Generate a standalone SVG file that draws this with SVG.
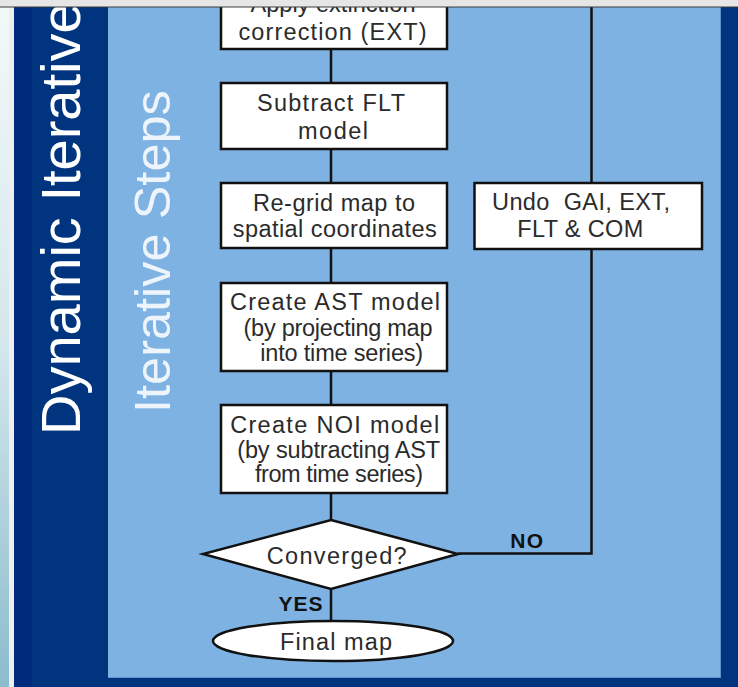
<svg xmlns="http://www.w3.org/2000/svg" width="738" height="687" viewBox="0 0 738 687">
  <defs>
    <linearGradient id="edgeFade" x1="0" y1="0" x2="0" y2="1">
      <stop offset="0" stop-color="#f4f9f9"/>
      <stop offset="0.5" stop-color="#d4e7ec"/>
      <stop offset="1" stop-color="#8bbccd"/>
    </linearGradient>
    <style>
      .box { fill: #ffffff; stroke: #111111; stroke-width: 2.5; }
      .wire { fill: none; stroke: #111111; stroke-width: 2.5; }
      .lbl { font-family: "Liberation Sans", Arial, sans-serif; font-size: 23.5px; fill: #2b2b2b; text-anchor: middle; white-space: pre; }
      .tag { font-family: "Liberation Sans", Arial, sans-serif; font-size: 21px; font-weight: bold; fill: #111111; text-anchor: middle; }
      .title { font-family: "Liberation Sans", Arial, sans-serif; }
    </style>
  </defs>

  <!-- backdrop -->
  <rect x="0" y="0" width="738" height="687" fill="#00347f"/>
  <rect x="0" y="0" width="9" height="687" fill="url(#edgeFade)"/>
  <rect x="9" y="0" width="5" height="687" fill="#eeeeee"/>
  <rect x="14" y="0" width="18" height="687" fill="#002a7b"/>
  <rect x="32" y="0" width="76" height="687" fill="#00347f"/>

  <!-- inner panel -->
  <rect x="108" y="0" width="613" height="678" fill="#7db2e3"/>
  <path d="M720.5 0 V677.5 H108" fill="none" stroke="#5f92c6" stroke-width="1"/>

  <!-- side titles -->
  <text class="title" transform="translate(80,435) rotate(-90)" font-size="56" fill="#ffffff">Dynamic Iterative</text>
  <text class="title" transform="translate(170,413) rotate(-90)" font-size="50.5" fill="#eef4fb">Iterative Steps</text>

  <!-- connectors -->
  <g id="connectors">
    <line class="wire" x1="331" y1="49" x2="331" y2="83"/>
    <line class="wire" x1="331" y1="149" x2="331" y2="183"/>
    <line class="wire" x1="331" y1="248" x2="331" y2="283"/>
    <line class="wire" x1="331" y1="371" x2="331" y2="405"/>
    <line class="wire" x1="331" y1="493" x2="331" y2="520"/>
    <line class="wire" x1="331" y1="589" x2="331" y2="621"/>
    <line class="wire" x1="591.5" y1="0" x2="591.5" y2="183"/>
    <polyline class="wire" points="591.5,249 591.5,553.5 458,553.5"/>
    <text class="tag" x="526.7" y="548" textLength="33">NO</text>
    <text class="tag" x="300.5" y="611" textLength="44">YES</text>
  </g>

  <!-- nodes -->
  <g id="node-ext">
    <rect class="box" x="221" y="-20" width="226" height="69"/>
    <text class="lbl" x="333" y="12" textLength="165">Apply extinction</text>
    <text class="lbl" x="332.5" y="40" textLength="188">correction (EXT)</text>
  </g>
  <g id="node-flt">
    <rect class="box" x="221" y="83" width="226" height="66"/>
    <text class="lbl" x="331" y="110.5" textLength="148">Subtract FLT</text>
    <text class="lbl" x="333" y="139" textLength="70">model</text>
  </g>
  <g id="node-regrid">
    <rect class="box" x="221" y="183" width="226" height="65"/>
    <text class="lbl" x="334" y="210.5" textLength="162">Re-grid map to</text>
    <text class="lbl" x="334.7" y="237" textLength="204">spatial coordinates</text>
  </g>
  <g id="node-ast">
    <rect class="box" x="221" y="283" width="226" height="88"/>
    <text class="lbl" x="335" y="310" textLength="210">Create AST model</text>
    <text class="lbl" x="338" y="336" textLength="189">(by projecting map</text>
    <text class="lbl" x="341.7" y="361" textLength="163">into time series)</text>
  </g>
  <g id="node-noi">
    <rect class="box" x="221" y="405" width="226" height="88"/>
    <text class="lbl" x="334.7" y="433" textLength="209">Create NOI model</text>
    <text class="lbl" x="338.7" y="458" textLength="203">(by subtracting AST</text>
    <text class="lbl" x="339" y="482" textLength="168">from time series)</text>
  </g>
  <g id="node-undo">
    <rect class="box" x="474.5" y="183" width="227.5" height="66"/>
    <text class="lbl" x="581" y="210" textLength="178">Undo  GAI, EXT,</text>
    <text class="lbl" x="580.3" y="237.3" textLength="126">FLT &amp; COM</text>
  </g>
  <g id="node-converged">
    <polygon class="box" points="331,520 458,554 331,589 203,554"/>
    <text class="lbl" x="336.7" y="564" textLength="140">Converged?</text>
  </g>
  <g id="node-final">
    <ellipse class="box" cx="333" cy="641" rx="120" ry="20"/>
    <text class="lbl" x="336" y="650" textLength="112">Final map</text>
  </g>

  <!-- top window strip -->
  <rect x="0" y="0" width="738" height="7" fill="#e6e6e6"/>
  <line x1="0" y1="7" x2="738" y2="7" stroke="#3a3a3a" stroke-width="1"/>
</svg>
